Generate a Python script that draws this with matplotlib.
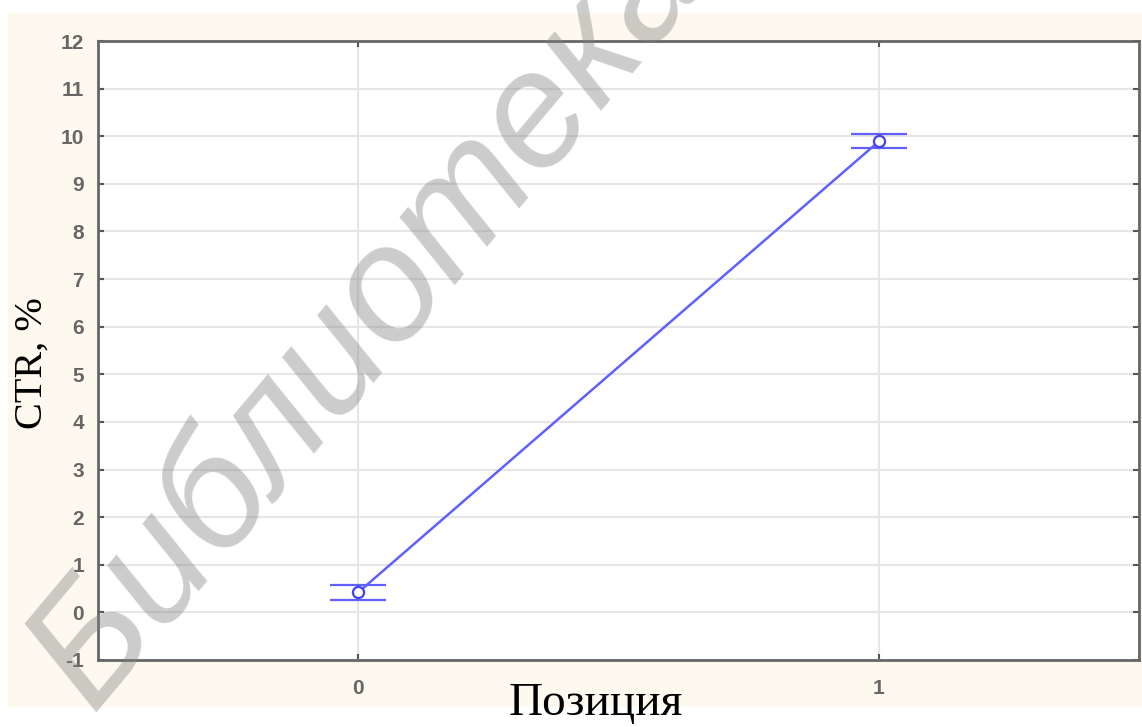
import matplotlib.pyplot as plt
from matplotlib.patches import Rectangle

plt.rcParams['axes.unicode_minus'] = False

# data
positions = [0, 1]
ctr_mean = [0.42, 9.89]
ctr_low = [0.26, 9.75]
ctr_high = [0.57, 10.05]
y_ticks = list(range(-1, 13))
x_ticks = [0, 1]

err_low = [m - l for m, l in zip(ctr_mean, ctr_low)]
err_high = [h - m for m, h in zip(ctr_mean, ctr_high)]

fig = plt.figure(figsize=(11.42, 7.27), dpi=100)
fig.patch.set_facecolor('white')

# cream panel behind the plot
fig.patches.append(Rectangle((0.007, 0.0275), 0.993, 0.955, transform=fig.transFigure,
                             facecolor='#fdf9ee', edgecolor='none', zorder=-5))

ax = fig.add_axes([0.0858, 0.0922, 0.9116, 0.8514])
ax.set_zorder(2)
ax.set_facecolor('white')

ax.errorbar(positions, ctr_mean, yerr=[err_low, err_high], color='#6060ff',
            lw=1.8, capsize=20, capthick=2.2, elinewidth=1.8,
            marker='o', markersize=8, mfc='white', mec='#4040ff', mew=1.6)

ax.set_xlim(-0.5, 1.5)
ax.set_ylim(-1, 12)
ax.set_yticks(y_ticks)
ax.set_xticks(x_ticks)
ax.grid(True, color='#e6e6e6', lw=1.5)
ax.set_axisbelow(True)

for s in ax.spines.values():
    s.set_color('#666666')
    s.set_linewidth(2)
ax.tick_params(direction='in', length=4, width=1.5, color='#555555',
               labelsize=15, labelcolor='#666666', pad=10, right=True, top=True)
ax.tick_params(axis='x', pad=14)
for lab in ax.get_xticklabels() + ax.get_yticklabels():
    lab.set_fontfamily('Liberation Sans')
    lab.set_fontweight('bold')

fig.text(0.028, 0.50, 'CTR, %', rotation=90, ha='center', va='center',
         fontsize=29, family='Liberation Serif')
fig.text(0.522, 0.003, 'Позиция', ha='center', va='bottom',
         fontsize=34, family='Liberation Serif')

# diagonal watermark
fig.text(0.0, -0.01, 'Библиотека', rotation=50, ha='left', va='bottom',
         fontsize=118, style='italic', family='Liberation Sans',
         color='#808080', alpha=0.4, zorder=10)

fig.savefig('out.png', dpi=100, facecolor='white')
